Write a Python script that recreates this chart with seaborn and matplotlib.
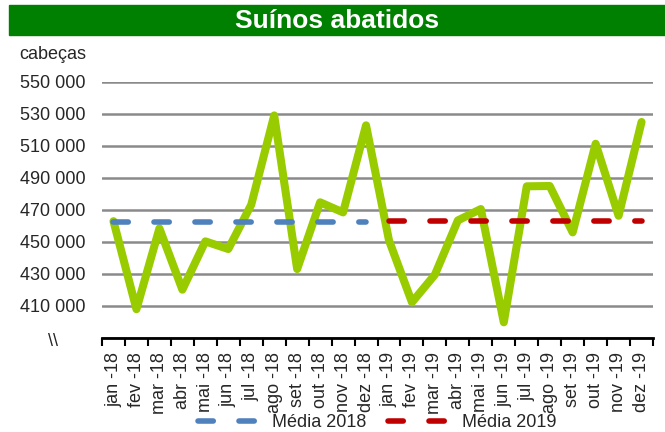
import pandas as pd
import matplotlib
matplotlib.use('Agg')
import matplotlib.pyplot as plt
import seaborn as sns
from matplotlib.patches import Rectangle
from matplotlib.ticker import FixedLocator

# Dados (cabeças de suínos abatidas por mês)
MESES = ['jan -18', 'fev -18', 'mar -18', 'abr -18', 'mai -18', 'jun -18',
         'jul -18', 'ago -18', 'set -18', 'out -18', 'nov -18', 'dez -18',
         'jan -19', 'fev -19', 'mar -19', 'abr -19', 'mai -19', 'jun -19',
         'jul -19', 'ago -19', 'set -19', 'out -19', 'nov -19', 'dez -19']
ABATES = [463000, 408000, 458500, 420200, 450400, 445600,
          473300, 529100, 433100, 474800, 468500, 522900,
          451000, 412300, 429600, 463500, 470600, 399800,
          484800, 485000, 456000, 511400, 466400, 525000]
MEDIA_2018 = 462300
MEDIA_2019 = 462900
Y_TICKS = [390000, 410000, 430000, 450000, 470000, 490000, 510000, 530000, 550000]

sns.set_theme(style='white')
plt.rcParams['font.family'] = ['Liberation Sans', 'DejaVu Sans']
plt.rcParams['lines.scale_dashes'] = False

df = pd.DataFrame({'mes': MESES, 'abates': ABATES})
df_m18 = pd.DataFrame({'mes': MESES[:12], 'media': [MEDIA_2018] * 12})
df_m19 = pd.DataFrame({'mes': MESES[12:], 'media': [MEDIA_2019] * 12})

fig = plt.figure(figsize=(6.65, 4.32), dpi=100)
ax = fig.add_axes([0.1534, 0.2176, 0.8286, 0.5926])

sns.lineplot(data=df, x='mes', y='abates', sort=False, ax=ax, color='#99CC00',
             lw=5.8, solid_joinstyle='round', solid_capstyle='round', zorder=3)
sns.lineplot(data=df_m18, x='mes', y='media', sort=False, ax=ax, color='#4F81BD',
             lw=4, dashes=False, zorder=4, label='Média 2018')
sns.lineplot(data=df_m19, x='mes', y='media', sort=False, ax=ax, color='#C00000',
             lw=4, dashes=False, zorder=4, label='Média 2019')
for ln in ax.lines[1:]:
    ln.set_dashes((11, 18.5))
    ln.set_dash_capstyle('round')

ax.set_xlim(-0.5, len(MESES) - 0.5)
ax.set_ylim(390000, 550000)
ax.set_yticks(Y_TICKS)
ax.set_yticklabels([''] + [f'{v:,}'.replace(',', ' ') for v in Y_TICKS[1:]])
ax.yaxis.grid(True, color='#8a8a8a', lw=1.8)
ax.xaxis.grid(False)
ax.set_xlabel('')
ax.set_ylabel('')

ax.set_xticks(range(len(MESES)))
ax.set_xticklabels(MESES, rotation=90)
ax.xaxis.set_minor_locator(FixedLocator([i - 0.5 for i in range(len(MESES) + 1)]))
ax.tick_params(axis='x', which='major', length=0, pad=10, labelsize=13)
ax.tick_params(axis='x', which='minor', length=5.5, width=1.5, color='black', bottom=True)
ax.tick_params(axis='y', length=0, pad=12, labelsize=13)

for s in ['top', 'right', 'left']:
    ax.spines[s].set_visible(False)
ax.spines['bottom'].set_color('black')
ax.spines['bottom'].set_linewidth(2)
ax.spines['bottom'].set_zorder(5)

leg = ax.legend(loc='center', bbox_to_anchor=(0.5, -0.33), ncol=2, frameon=False,
                fontsize=13, handlelength=3.6, handletextpad=0.5, columnspacing=1.2)

# Barra do título
fig.patches.append(Rectangle((0.0135, 0.919), 0.9865, 0.069, transform=fig.transFigure,
                             color='#008000', zorder=0))
fig.text(0.507, 0.952, 'Suínos abatidos', color='white', fontsize=19,
         fontweight='bold', ha='center', va='center')
fig.text(0.029, 0.873, 'cabeças', fontsize=13, ha='left', va='center')
fig.text(0.0795, 0.21, '\\\\', fontsize=13, ha='center', va='center')

fig.savefig('out.png', dpi=100)
